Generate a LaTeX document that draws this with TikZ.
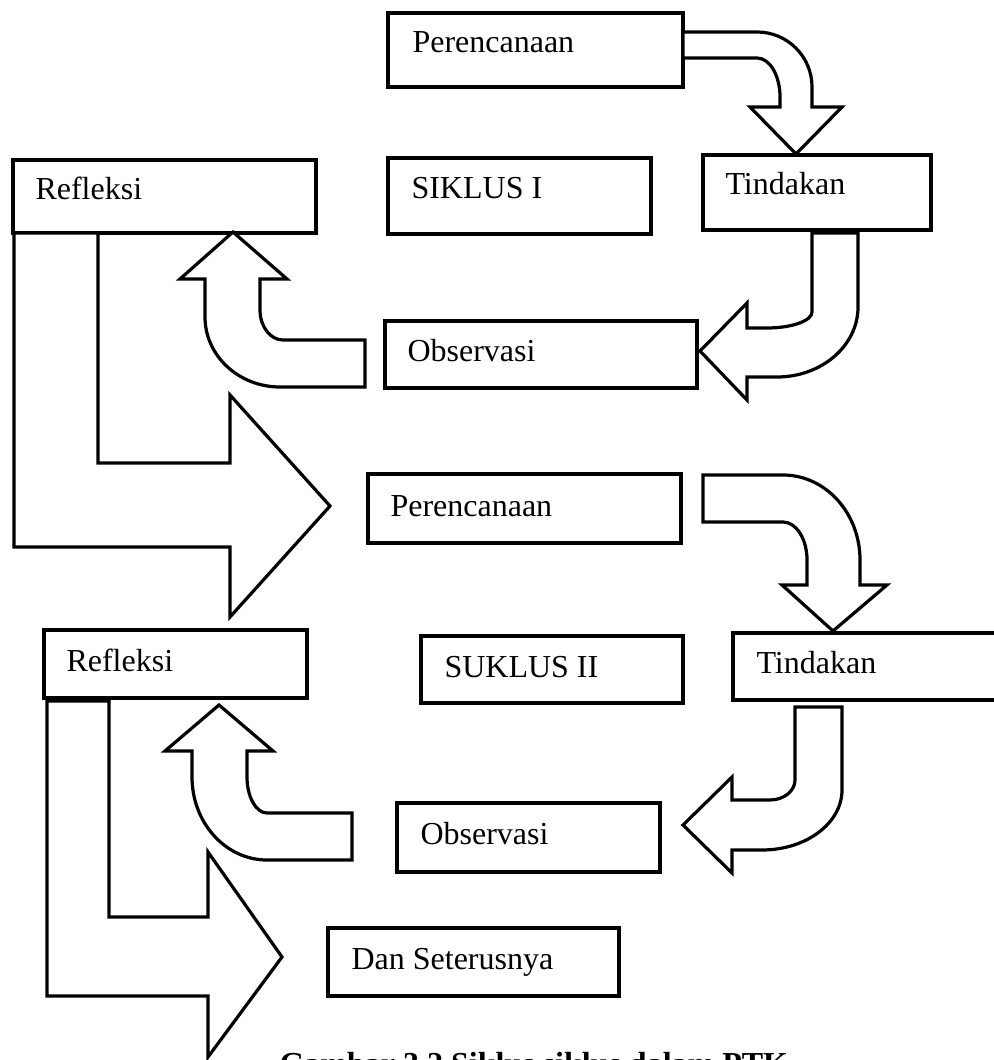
\documentclass[tikz,border=0pt]{standalone}
\usepackage{fontspec}
\setmainfont{Liberation Serif}
\begin{document}
\begin{tikzpicture}[x=0.375pt,y=-0.375pt,
  box/.style={line width=1.2pt},
  blk/.style={line width=1.2pt,fill=white,line join=miter},
  lbl/.style={anchor=base west,inner sep=0pt,font=\fontsize{12}{14}\selectfont}]
\useasboundingbox (0,0) rectangle (993,1060);
% siklus I
\draw [box] (388,13) rectangle (683,87);
\node [lbl] (per1) at (412,53) {Perencanaan};
\draw [box] (13,160) rectangle (316,233);
\node [lbl] (ref1) at (35,200) {Refleksi};
\draw [box] (388,158) rectangle (651,234);
\node [lbl] (sik1) at (411,199) {SIKLUS I};
\draw [box] (703,155) rectangle (931,230);
\node [lbl] (tin1) at (725,195) {Tindakan};
\draw [box] (385,321) rectangle (697,388);
\node [lbl] (obs1) at (407,362) {Observasi};
\draw [blk] (683,32) -- (757,32) .. controls (787.4,32) and (812,56.6) .. (812,87) -- (812,107) -- (842,107) -- (796,154) -- (750,107) -- (780,107) -- (780,97) .. controls (780,75.5) and (769.7,58) .. (757,58) -- (683,58) -- cycle;
\draw [blk] (812,233) -- (858,233) -- (858,307) .. controls (858,345.6) and (821.7,377) .. (777,377) -- (747,377) -- (747,400) -- (700,351) -- (747,303) -- (747,328) -- (767,328) .. controls (791.8,328) and (812,320.8) .. (812,312) -- cycle;
\draw [blk] (365,340) -- (283,340) .. controls (270.3,340) and (260,326.6) .. (260,310) -- (260,279) -- (287,279) -- (233,232) -- (180,279) -- (205,279) -- (205,317) .. controls (205,355.6) and (238.6,387) .. (280,387) -- (365,387) -- cycle;
\draw [blk] (14,233) -- (14,547) -- (230,547) -- (230,617) -- (330,506) -- (230,395) -- (230,463) -- (98,463) -- (98,233) -- cycle;
% siklus II
\draw [box] (368,474) rectangle (681,543);
\node [lbl] (per2) at (390,516) {Perencanaan};
\draw [box] (44,630) rectangle (307,698);
\node [lbl] (ref2) at (66,671) {Refleksi};
\draw [box] (421,636) rectangle (683,703);
\node [lbl] (sik2) at (444,677) {SUKLUS II};
\draw [box] (733,633) rectangle (1000,700);
\node [lbl] (tin2) at (756,673) {Tindakan};
\draw [box] (397,803) rectangle (660,872);
\node [lbl] (obs2) at (420,844) {Observasi};
\draw [box] (328,928) rectangle (619,996);
\node [lbl] (dan) at (351,969) {Dan Seterusnya};
\draw [blk] (703,475) -- (783,475) .. controls (825.5,475) and (860,513.1) .. (860,560) -- (860,585) -- (887,585) -- (833,631) -- (782,585) -- (807,585) -- (807,560) .. controls (807,539) and (796.2,522) .. (783,522) -- (703,522) -- cycle;
\draw [blk] (795,707) -- (842,707) -- (842,790) .. controls (842,823.1) and (806.2,850) .. (762,850) -- (732,850) -- (732,873) -- (683,825) -- (732,777) -- (732,800) -- (770,800) .. controls (783.8,800) and (795,791) .. (795,780) -- cycle;
\draw [blk] (352,813) -- (267,813) .. controls (256,813) and (247,796.9) .. (247,777) -- (247,751) -- (273,751) -- (219,705) -- (165,751) -- (192,751) -- (192,777) .. controls (192,822.8) and (225.6,860) .. (267,860) -- (352,860) -- cycle;
\draw [blk] (47,701) -- (47,996) -- (208,996) -- (208,1057) -- (282,957) -- (208,852) -- (208,917) -- (109,917) -- (109,701) -- cycle;
\node [lbl,font=\fontsize{12}{14}\selectfont\bfseries] (cap) at (279,1074) {Gambar 3.2 Siklus siklus dalam PTK};
\end{tikzpicture}
\end{document}
